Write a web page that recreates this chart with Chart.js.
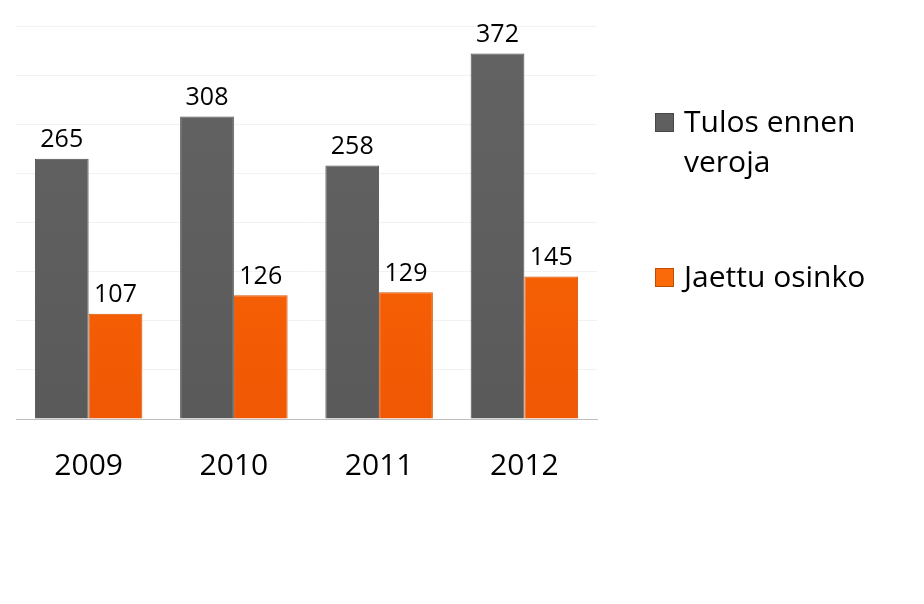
<!DOCTYPE html>
<html>
<head>
<meta charset="utf-8">
<script src="https://cdn.jsdelivr.net/npm/chart.js@4"></script>
<style>
  html, body { margin: 0; padding: 0; background: #fff; }
  #wrap { width: 924px; height: 604px; }
</style>
</head>
<body>
<div id="wrap"><canvas id="chart" width="924" height="604"></canvas></div>
<script>
// chart data
const years = ['2009', '2010', '2011', '2012'];
const seriesNames = ['Tulos ennen veroja', 'Jaettu osinko'];
const tulosEnnenVeroja = [265, 308, 258, 372];
const jaettuOsinko = [107, 126, 129, 145];

const FONT = "'Open Sans', 'DejaVu Sans', sans-serif";

function barGradient(ctx, top, bottom) {
  const chart = ctx.chart;
  const area = chart.chartArea;
  if (!area) return top;
  const g = chart.ctx.createLinearGradient(0, area.top, 0, area.bottom);
  g.addColorStop(0, top);
  g.addColorStop(1, bottom);
  return g;
}

// value labels above each bar
const valueLabels = {
  id: 'valueLabels',
  afterDatasetsDraw(chart) {
    const ctx = chart.ctx;
    ctx.save();
    ctx.font = '25px ' + FONT;
    ctx.fillStyle = '#000';
    ctx.textAlign = 'center';
    ctx.textBaseline = 'bottom';
    chart.data.datasets.forEach((ds, i) => {
      chart.getDatasetMeta(i).data.forEach((bar, j) => {
        ctx.fillText(ds.data[j], bar.x, bar.y - 6);
      });
    });
    ctx.restore();
  }
};

// legend on the right, text wrapped
const sideLegend = {
  id: 'sideLegend',
  afterDraw(chart) {
    const ctx = chart.ctx;
    ctx.save();
    ctx.font = '30px ' + FONT;
    ctx.textBaseline = 'middle';
    const tops = [113, 268];
    chart.data.datasets.forEach((ds, i) => {
      const words = ds.label.split(' ');
      const lines = [];
      let cur = '';
      words.forEach(w => {
        const t = cur ? cur + ' ' + w : w;
        if (ctx.measureText(t).width > 215 && cur) { lines.push(cur); cur = w; }
        else cur = t;
      });
      lines.push(cur);
      const y = tops[i];
      ctx.fillStyle = ds.legendColor;
      ctx.fillRect(655, y, 19, 19);
      ctx.strokeStyle = 'rgba(0,0,0,0.25)';
      ctx.strokeRect(655.5, y + 0.5, 18, 18);
      ctx.fillStyle = '#000';
      lines.forEach((ln, k) => ctx.fillText(ln, 684, y + 10 + k * 40));
    });
    ctx.restore();
  }
};

new Chart(document.getElementById('chart'), {
  type: 'bar',
  data: {
    labels: years,
    datasets: [
      {
        label: seriesNames[0],
        data: tulosEnnenVeroja,
        legendColor: '#5f5f5f',
        backgroundColor: c => barGradient(c, '#636363', '#5a5a5a'),
        borderColor: '#4d4d4d',
        borderWidth: 1
      },
      {
        label: seriesNames[1],
        data: jaettuOsinko,
        legendColor: '#fa6a08',
        backgroundColor: c => barGradient(c, '#ff6c04', '#f05804'),
        borderColor: '#d85206',
        borderWidth: 1
      }
    ]
  },
  options: {
    responsive: false,
    animation: false,
    devicePixelRatio: 1,
    categoryPercentage: 0.74,
    barPercentage: 1.0,
    layout: { padding: { left: 16, right: 327, top: 26, bottom: 91 } },
    plugins: {
      legend: { display: false },
      tooltip: { enabled: false }
    },
    scales: {
      x: {
        grid: { display: false, drawTicks: false },
        border: { display: true, color: '#bfbfbf', width: 1 },
        ticks: { color: '#000', font: { family: FONT, size: 30 }, padding: 29 }
      },
      y: {
        min: 0,
        max: 400,
        ticks: { display: false, stepSize: 50 },
        grid: { color: '#f2f2f2', drawTicks: false },
        border: { display: false }
      }
    }
  },
  plugins: [valueLabels, sideLegend]
});
</script>
</body>
</html>
